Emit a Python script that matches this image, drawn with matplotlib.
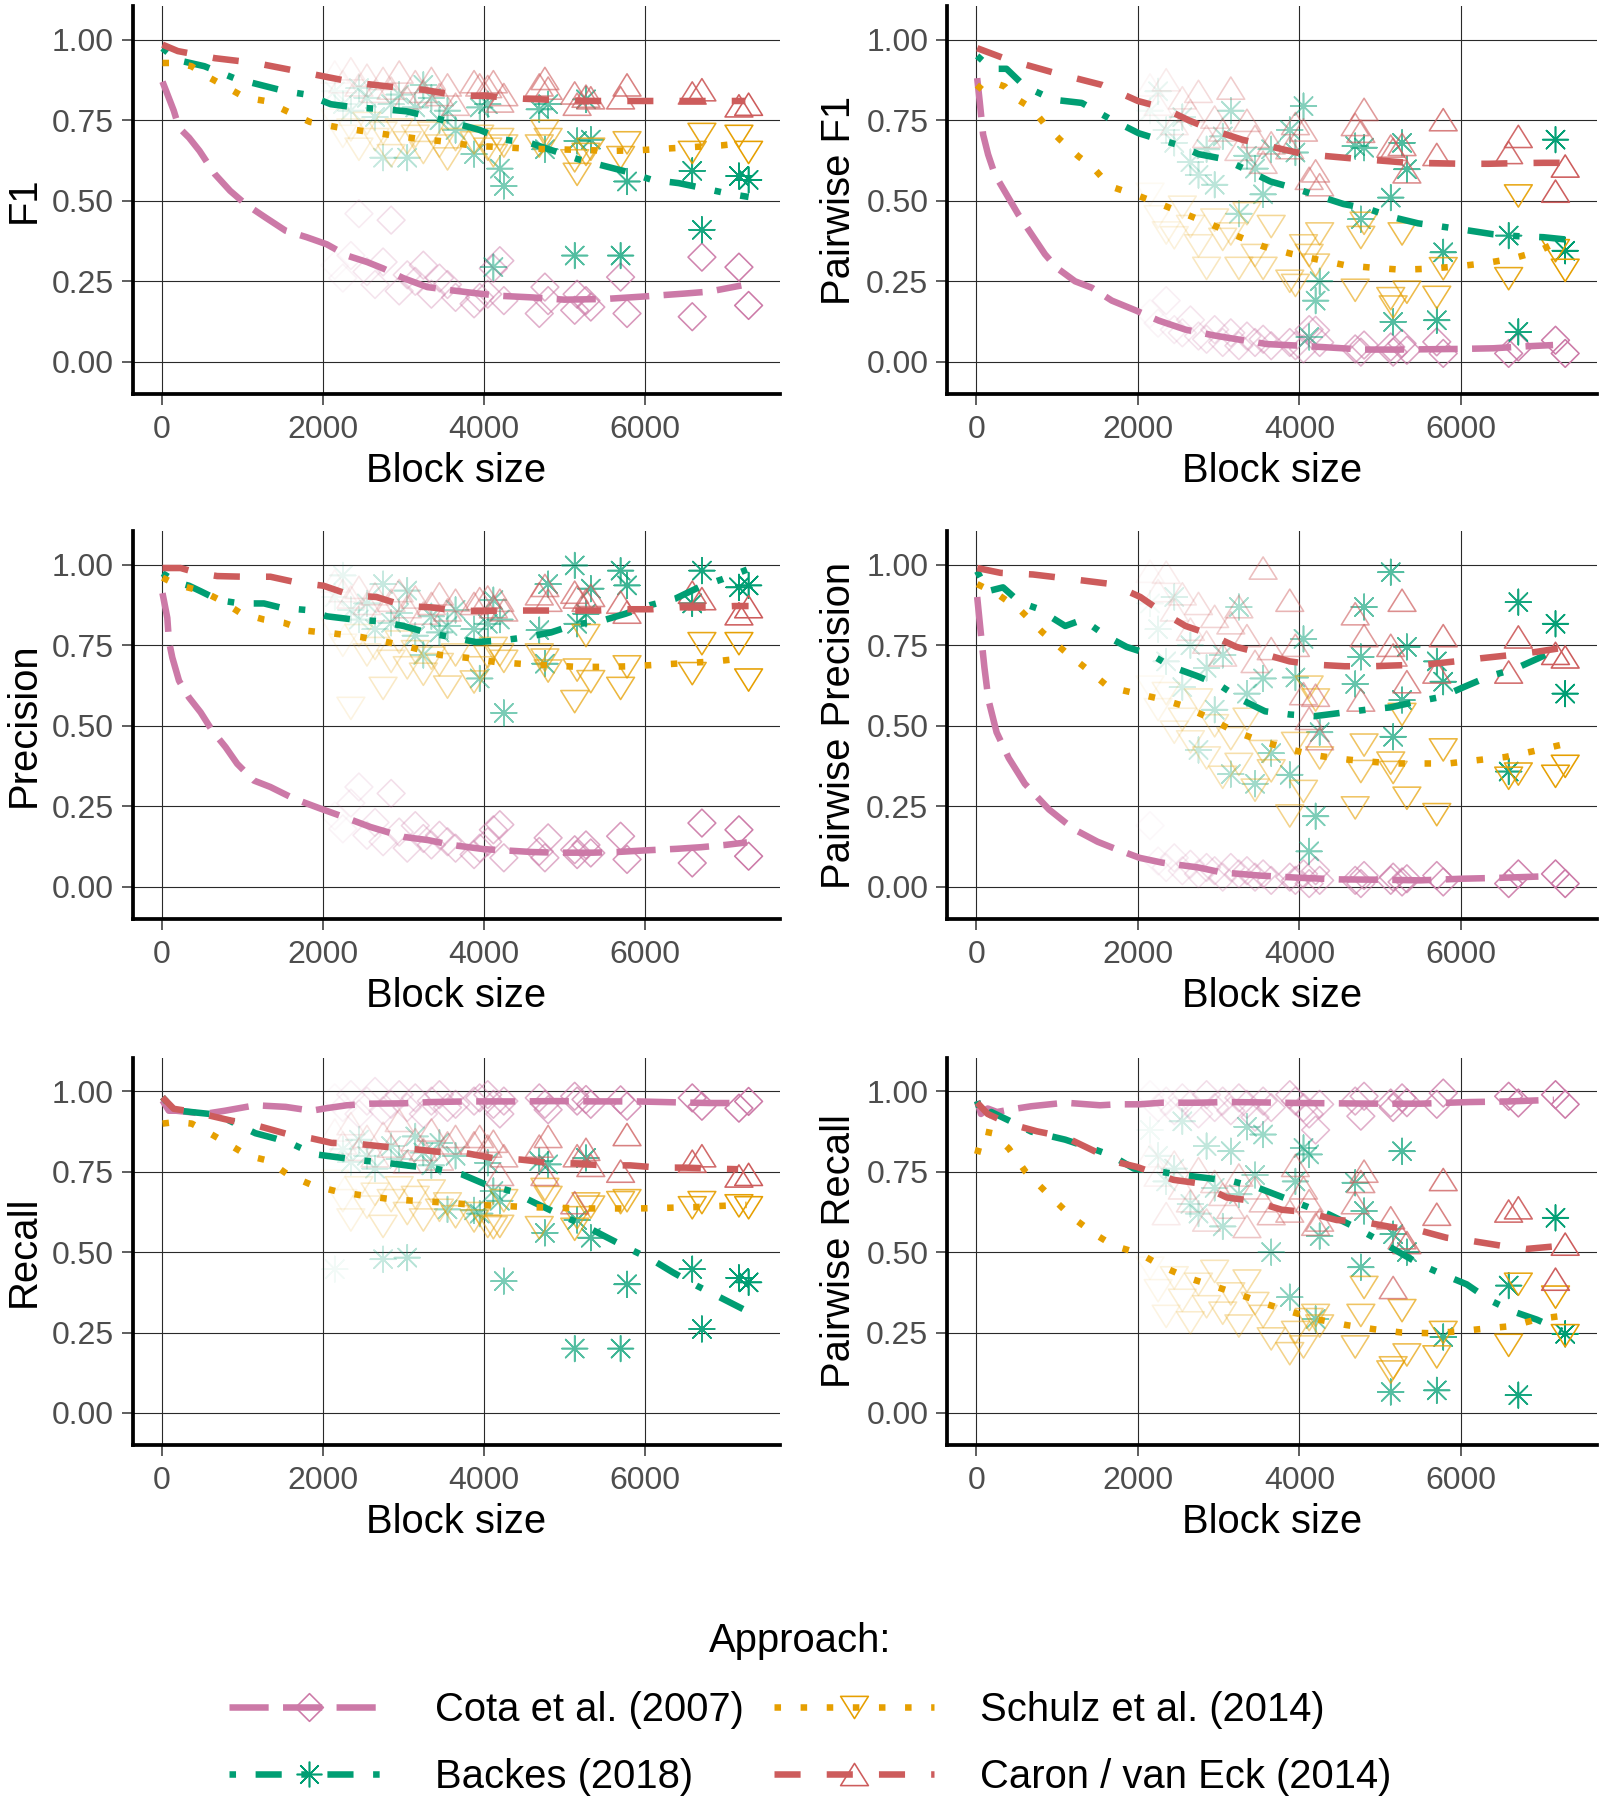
import numpy as np
import matplotlib
matplotlib.use("Agg")
import matplotlib.pyplot as plt
from matplotlib.lines import Line2D
from matplotlib.path import Path

plt.rcParams['font.family'] = ['Liberation Sans', 'DejaVu Sans']

# ---------------- data ----------------
APPROACHES = ["Cota et al. (2007)", "Backes (2018)", "Schulz et al. (2014)", "Caron / van Eck (2014)"]
METRICS = ["F1", "Pairwise F1", "Precision", "Pairwise Precision", "Recall", "Pairwise Recall"]
X_TICKS = [0, 2000, 4000, 6000]
Y_TICKS = [0.00, 0.25, 0.50, 0.75, 1.00]
Y_TICK_LABELS = ["0.00", "0.25", "0.50", "0.75", "1.00"]

BLOCK_SIZES = [2150, 2250, 2350, 2450, 2550, 2650, 2750, 2850, 2950, 3050, 3150, 3250, 3350, 3450, 3550, 3650,
               3880, 3950, 4050, 4120, 4200, 4250, 4690, 4760, 4800, 5130, 5160, 5270, 5330, 5700, 5780,
               6590, 6710, 7170, 7290]

# points per block (same order as BLOCK_SIZES)
F1_COTA = [0.30, 0.26, 0.33, 0.46, 0.28, 0.24, 0.31, 0.44, 0.22, 0.27, 0.25, 0.30, 0.21, 0.26, 0.24, 0.20, 0.18, 0.20, 0.21, 0.29, 0.314, 0.19, 0.15, 0.232, 0.19, 0.16, 0.21, 0.19, 0.17, 0.263, 0.15, 0.14, 0.325, 0.294, 0.175]
F1_BACKES = [0.84, 0.80, 0.78, 0.85, 0.82, 0.76, 0.634, 0.80, 0.83, 0.634, 0.79, 0.86, 0.82, 0.75, 0.78, 0.72, 0.645, 0.79, 0.80, 0.294, 0.60, 0.546, 0.784, 0.66, 0.80, 0.33, 0.686, 0.815, 0.69, 0.33, 0.56, 0.593, 0.41, 0.577, 0.565]
F1_SCHULZ = [0.75, 0.70, 0.72, 0.66, 0.74, 0.69, 0.71, 0.64, 0.72, 0.68, 0.70, 0.65, 0.71, 0.67, 0.63, 0.69, 0.68, 0.70, 0.66, 0.64, 0.69, 0.67, 0.67, 0.716, 0.69, 0.624, 0.582, 0.644, 0.66, 0.634, 0.68, 0.65, 0.706, 0.70, 0.65]
F1_CARON = [0.90, 0.87, 0.91, 0.86, 0.89, 0.84, 0.88, 0.85, 0.90, 0.82, 0.87, 0.84, 0.88, 0.83, 0.86, 0.80, 0.87, 0.86, 0.855, 0.87, 0.81, 0.83, 0.86, 0.88, 0.85, 0.835, 0.80, 0.825, 0.82, 0.82, 0.86, 0.835, 0.845, 0.795, 0.80]

PW_F1_COTA = [0.15, 0.12, 0.19, 0.10, 0.09, 0.13, 0.08, 0.07, 0.10, 0.06, 0.09, 0.05, 0.08, 0.06, 0.07, 0.05, 0.06, 0.05, 0.04, 0.10, 0.098, 0.06, 0.04, 0.03, 0.052, 0.046, 0.03, 0.057, 0.036, 0.062, 0.026, 0.026, 0.046, 0.067, 0.026]
PW_F1_BACKES = [0.78, 0.84, 0.72, 0.68, 0.76, 0.62, 0.58, 0.66, 0.55, 0.70, 0.78, 0.46, 0.64, 0.60, 0.52, 0.66, 0.72, 0.65, 0.794, 0.077, 0.19, 0.25, 0.67, 0.443, 0.665, 0.51, 0.124, 0.68, 0.598, 0.129, 0.34, 0.392, 0.093, 0.69, 0.345]
PW_F1_SCHULZ = [0.52, 0.45, 0.40, 0.385, 0.48, 0.42, 0.36, 0.29, 0.44, 0.38, 0.397, 0.29, 0.46, 0.33, 0.29, 0.42, 0.25, 0.237, 0.36, 0.33, 0.30, 0.397, 0.222, 0.386, 0.43, 0.196, 0.17, 0.397, 0.216, 0.20, 0.289, 0.258, 0.515, 0.345, 0.284]
PW_F1_CARON = [0.86, 0.80, 0.876, 0.74, 0.82, 0.78, 0.84, 0.70, 0.76, 0.72, 0.85, 0.66, 0.75, 0.70, 0.62, 0.68, 0.665, 0.74, 0.72, 0.57, 0.593, 0.55, 0.737, 0.716, 0.784, 0.67, 0.66, 0.675, 0.59, 0.644, 0.752, 0.65, 0.70, 0.53, 0.608]

PRECISION_COTA = [0.22, 0.18, 0.26, 0.31, 0.16, 0.20, 0.14, 0.29, 0.17, 0.12, 0.19, 0.15, 0.13, 0.16, 0.14, 0.12, 0.10, 0.12, 0.14, 0.177, 0.193, 0.09, 0.11, 0.09, 0.152, 0.115, 0.10, 0.13, 0.105, 0.157, 0.085, 0.074, 0.198, 0.177, 0.095]
PRECISION_BACKES = [0.90, 0.967, 0.86, 0.83, 0.88, 0.80, 0.94, 0.82, 0.85, 0.92, 0.78, 0.72, 0.84, 0.79, 0.81, 0.86, 0.80, 0.647, 0.817, 0.89, 0.83, 0.54, 0.797, 0.693, 0.94, 0.998, 0.817, 0.848, 0.926, 0.982, 0.936, 0.88, 0.982, 0.93, 0.936]
PRECISION_SCHULZ = [0.80, 0.75, 0.554, 0.78, 0.72, 0.74, 0.616, 0.70, 0.76, 0.68, 0.73, 0.66, 0.71, 0.69, 0.62, 0.72, 0.636, 0.68, 0.714, 0.74, 0.72, 0.70, 0.72, 0.704, 0.67, 0.575, 0.673, 0.78, 0.637, 0.616, 0.683, 0.662, 0.755, 0.755, 0.642]
PRECISION_CARON = [0.95, 0.92, 0.90, 0.93, 0.88, 0.91, 0.86, 0.89, 0.92, 0.87, 0.90, 0.85, 0.88, 0.91, 0.86, 0.89, 0.88, 0.895, 0.90, 0.87, 0.89, 0.86, 0.91, 0.936, 0.89, 0.915, 0.90, 0.89, 0.905, 0.884, 0.853, 0.915, 0.895, 0.848, 0.87]

PW_PRECISION_COTA = [0.19, 0.08, 0.06, 0.09, 0.05, 0.07, 0.04, 0.06, 0.05, 0.03, 0.06, 0.04, 0.05, 0.03, 0.04, 0.02, 0.03, 0.02, 0.04, 0.01, 0.05, 0.02, 0.02, 0.01, 0.035, 0.02, 0.03, 0.015, 0.025, 0.035, 0.015, 0.01, 0.04, 0.04, 0.01]
PW_PRECISION_BACKES = [0.88, 0.80, 0.70, 0.90, 0.62, 0.75, 0.425, 0.68, 0.55, 0.72, 0.35, 0.869, 0.60, 0.32, 0.647, 0.415, 0.348, 0.65, 0.77, 0.11, 0.219, 0.48, 0.63, 0.714, 0.869, 0.977, 0.466, 0.58, 0.745, 0.70, 0.637, 0.358, 0.884, 0.817, 0.60]
PW_PRECISION_SCHULZ = [0.62, 0.55, 0.60, 0.48, 0.52, 0.45, 0.58, 0.40, 0.50, 0.34, 0.46, 0.38, 0.52, 0.30, 0.42, 0.36, 0.22, 0.445, 0.296, 0.62, 0.58, 0.40, 0.245, 0.358, 0.44, 0.384, 0.355, 0.535, 0.275, 0.224, 0.425, 0.337, 0.35, 0.343, 0.374]
PW_PRECISION_CARON = [0.98, 0.92, 0.977, 0.86, 0.91, 0.80, 0.88, 0.76, 0.84, 0.72, 0.82, 0.87, 0.78, 0.70, 0.99, 0.74, 0.89, 0.75, 0.60, 0.523, 0.595, 0.46, 0.848, 0.58, 0.78, 0.75, 0.72, 0.89, 0.637, 0.667, 0.78, 0.667, 0.776, 0.725, 0.714]

RECALL_COTA = [0.98, 0.95, 0.99, 0.93, 0.97, 1.0, 0.94, 0.96, 0.99, 0.95, 0.98, 0.93, 0.97, 0.99, 0.95, 0.96, 0.97, 0.98, 0.99, 0.96, 0.93, 0.97, 0.98, 0.96, 0.943, 0.985, 0.97, 0.975, 0.96, 0.974, 0.954, 0.98, 0.954, 0.948, 0.969]
RECALL_BACKES = [0.447, 0.82, 0.78, 0.85, 0.80, 0.76, 0.478, 0.83, 0.79, 0.483, 0.86, 0.81, 0.77, 0.84, 0.633, 0.80, 0.63, 0.62, 0.778, 0.69, 0.66, 0.41, 0.783, 0.56, 0.773, 0.20, 0.60, 0.793, 0.545, 0.20, 0.40, 0.447, 0.261, 0.42, 0.406]
RECALL_SCHULZ = [0.72, 0.66, 0.60, 0.70, 0.64, 0.68, 0.58, 0.66, 0.70, 0.62, 0.67, 0.60, 0.69, 0.63, 0.65, 0.61, 0.597, 0.62, 0.58, 0.576, 0.58, 0.66, 0.576, 0.695, 0.67, 0.571, 0.607, 0.65, 0.64, 0.654, 0.66, 0.638, 0.654, 0.644, 0.638]
RECALL_CARON = [0.88, 0.84, 0.90, 0.82, 0.86, 0.80, 0.87, 0.83, 0.91, 0.78, 0.85, 0.82, 0.88, 0.79, 0.84, 0.86, 0.84, 0.86, 0.83, 0.845, 0.742, 0.80, 0.83, 0.742, 0.86, 0.654, 0.80, 0.82, 0.77, 0.752, 0.866, 0.783, 0.80, 0.737, 0.742]

PW_RECALL_COTA = [0.99, 0.95, 0.97, 0.94, 0.98, 0.96, 0.93, 0.99, 0.95, 0.97, 0.94, 0.98, 0.96, 0.92, 0.97, 0.95, 0.99, 0.97, 0.95, 0.93, 0.88, 0.96, 0.97, 0.923, 0.985, 0.964, 0.95, 0.98, 0.965, 0.96, 0.995, 0.985, 0.964, 0.99, 0.96]
PW_RECALL_BACKES = [0.88, 0.80, 0.72, 0.76, 0.907, 0.65, 0.62, 0.83, 0.70, 0.58, 0.814, 0.68, 0.89, 0.74, 0.866, 0.50, 0.36, 0.72, 0.824, 0.804, 0.292, 0.55, 0.716, 0.453, 0.628, 0.065, 0.556, 0.814, 0.50, 0.07, 0.236, 0.396, 0.055, 0.607, 0.246]
PW_RECALL_SCHULZ = [0.45, 0.38, 0.30, 0.42, 0.35, 0.28, 0.40, 0.33, 0.44, 0.31, 0.37, 0.27, 0.41, 0.34, 0.30, 0.23, 0.184, 0.25, 0.205, 0.29, 0.303, 0.27, 0.205, 0.303, 0.39, 0.127, 0.14, 0.318, 0.18, 0.174, 0.25, 0.21, 0.40, 0.36, 0.24]
PW_RECALL_CARON = [0.80, 0.74, 0.62, 0.78, 0.70, 0.66, 0.76, 0.60, 0.72, 0.68, 0.64, 0.74, 0.58, 0.70, 0.66, 0.62, 0.628, 0.77, 0.70, 0.66, 0.587, 0.60, 0.654, 0.72, 0.752, 0.607, 0.39, 0.545, 0.53, 0.618, 0.726, 0.628, 0.638, 0.416, 0.525]

# smoothed trend lines (x, y)
F1_COTA_LX = [10, 57, 150, 215, 340, 470, 660, 850, 1040, 1290, 1540, 1800, 2050, 2300, 2550, 2750, 3000, 3300, 3600, 3900, 4200, 4600, 5000, 5500, 6000, 6500, 6800, 7200]
F1_COTA_LY = [0.87, 0.84, 0.78, 0.727, 0.696, 0.655, 0.583, 0.531, 0.49, 0.448, 0.407, 0.387, 0.365, 0.33, 0.31, 0.29, 0.26, 0.232, 0.222, 0.213, 0.205, 0.2, 0.193, 0.195, 0.203, 0.212, 0.218, 0.237]
F1_BACKES_LX = [10, 180, 530, 910, 1540, 1800, 2100, 2400, 2730, 3040, 3350, 3660, 3950, 4250, 4570, 4870, 5160, 5470, 5780, 6090, 6420, 6710, 7040, 7290]
F1_BACKES_LY = [0.974, 0.938, 0.918, 0.88, 0.84, 0.83, 0.80, 0.79, 0.785, 0.778, 0.76, 0.74, 0.72, 0.69, 0.68, 0.655, 0.63, 0.61, 0.59, 0.565, 0.555, 0.54, 0.522, 0.512]
F1_SCHULZ_LX = [10, 180, 370, 560, 785, 1040, 1290, 1540, 1840, 2170, 2520, 2850, 3180, 3520, 3860, 4190, 4545, 4875, 5225, 5575, 5925, 6255, 6605, 6950, 7245]
F1_SCHULZ_LY = [0.928, 0.928, 0.918, 0.887, 0.856, 0.82, 0.81, 0.78, 0.745, 0.729, 0.716, 0.704, 0.693, 0.684, 0.671, 0.667, 0.662, 0.66, 0.658, 0.655, 0.657, 0.662, 0.667, 0.672, 0.68]
F1_CARON_LX = [10, 200, 660, 1165, 1800, 2430, 3000, 3250, 3700, 4000, 4500, 5000, 5400, 6000, 6700, 7250]
F1_CARON_LY = [0.985, 0.965, 0.943, 0.928, 0.897, 0.866, 0.85, 0.845, 0.826, 0.826, 0.817, 0.812, 0.81, 0.81, 0.81, 0.81]

PW_F1_COTA_LX = [10, 41, 83, 145, 228, 373, 518, 683, 849, 994, 1222, 1429, 1677, 1988, 2257, 2588, 2961, 3300, 3600, 4000, 4400, 4800, 5200, 5600, 6000, 6400, 6800, 7140]
PW_F1_COTA_LY = [0.881, 0.809, 0.706, 0.644, 0.582, 0.52, 0.458, 0.396, 0.334, 0.292, 0.25, 0.23, 0.19, 0.158, 0.128, 0.1, 0.081, 0.067, 0.055, 0.05, 0.044, 0.038, 0.038, 0.039, 0.04, 0.042, 0.048, 0.052]
PW_F1_BACKES_LX = [10, 145, 207, 373, 600, 953, 1305, 1636, 2008, 2200, 2480, 2750, 3060, 3330, 3640, 3925, 4235, 4545, 4850, 5140, 5470, 5760, 6090, 6400, 6710, 7020, 7290]
PW_F1_BACKES_LY = [0.95, 0.92, 0.91, 0.91, 0.855, 0.814, 0.804, 0.757, 0.71, 0.695, 0.675, 0.645, 0.63, 0.598, 0.56, 0.54, 0.515, 0.49, 0.475, 0.45, 0.43, 0.42, 0.408, 0.396, 0.39, 0.387, 0.38]
PW_F1_SCHULZ_LX = [10, 83, 228, 352, 476, 683, 849, 1035, 1263, 1449, 1656, 1988, 2276, 2606, 2916, 3245, 3555, 3905, 4235, 4585, 4915, 5266, 5596, 5946, 6288, 6627, 6956, 7225]
PW_F1_SCHULZ_LY = [0.845, 0.866, 0.866, 0.855, 0.82, 0.788, 0.737, 0.69, 0.638, 0.602, 0.545, 0.517, 0.49, 0.457, 0.426, 0.389, 0.358, 0.335, 0.317, 0.299, 0.292, 0.286, 0.289, 0.296, 0.306, 0.32, 0.343, 0.376]
PW_F1_CARON_LX = [10, 393, 973, 1553, 2000, 2300, 2630, 2920, 3290, 3620, 4000, 4280, 4730, 5000, 5350, 5640, 6010, 6340, 6710, 7020, 7250]
PW_F1_CARON_LY = [0.974, 0.938, 0.897, 0.86, 0.81, 0.79, 0.75, 0.72, 0.69, 0.67, 0.648, 0.64, 0.63, 0.625, 0.618, 0.617, 0.615, 0.615, 0.617, 0.618, 0.618]

PRECISION_COTA_LX = [10, 70, 90, 132, 215, 339, 483, 628, 793, 938, 1145, 1350, 1640, 1970, 2260, 2590, 3004, 3310, 3600, 4000, 4340, 4600, 4900, 5350, 5650, 6000, 6400, 6700, 7000, 7270]
PRECISION_COTA_LY = [0.912, 0.835, 0.763, 0.712, 0.64, 0.588, 0.542, 0.485, 0.434, 0.382, 0.33, 0.31, 0.274, 0.243, 0.217, 0.186, 0.155, 0.145, 0.13, 0.117, 0.112, 0.108, 0.106, 0.106, 0.108, 0.113, 0.118, 0.123, 0.13, 0.138]
PRECISION_BACKES_LX = [10, 195, 340, 483, 710, 980, 1270, 1495, 1785, 2054, 2384, 2694, 3004, 3290, 3600, 3905, 4215, 4525, 4835, 5140, 5450, 5760, 6070, 6380, 6670, 6960, 7270]
PRECISION_BACKES_LY = [0.974, 0.945, 0.935, 0.918, 0.89, 0.88, 0.88, 0.866, 0.86, 0.84, 0.83, 0.825, 0.81, 0.79, 0.775, 0.76, 0.765, 0.775, 0.79, 0.815, 0.825, 0.848, 0.875, 0.895, 0.93, 0.955, 0.985]
PRECISION_SCHULZ_LX = [10, 173, 318, 504, 752, 980, 1270, 1517, 1806, 2130, 2470, 2800, 3120, 3460, 3800, 4150, 4490, 4830, 5160, 5500, 5840, 6180, 6525, 6870, 7200]
PRECISION_SCHULZ_LY = [0.96, 0.94, 0.93, 0.918, 0.887, 0.85, 0.83, 0.82, 0.795, 0.787, 0.776, 0.76, 0.742, 0.72, 0.711, 0.698, 0.692, 0.688, 0.683, 0.683, 0.685, 0.69, 0.695, 0.7, 0.709]
PRECISION_CARON_LX = [10, 235, 442, 690, 1020, 1350, 1680, 2010, 2360, 2670, 3025, 3335, 3700, 4030, 4380, 4710, 5080, 5410, 5760, 6090, 6440, 6780, 7120, 7290]
PRECISION_CARON_LY = [0.99, 0.99, 0.975, 0.965, 0.963, 0.963, 0.945, 0.935, 0.905, 0.9, 0.872, 0.868, 0.857, 0.857, 0.858, 0.858, 0.858, 0.858, 0.862, 0.862, 0.868, 0.868, 0.872, 0.872]

PW_PRECISION_COTA_LX = [10, 50, 100, 150, 250, 400, 600, 900, 1200, 1500, 1700, 2020, 2300, 2750, 3030, 3500, 4000, 4500, 5000, 5500, 6000, 6500, 7100]
PW_PRECISION_COTA_LY = [0.9, 0.8, 0.68, 0.58, 0.48, 0.4, 0.32, 0.24, 0.18, 0.14, 0.12, 0.09, 0.075, 0.06, 0.045, 0.035, 0.028, 0.023, 0.022, 0.02, 0.025, 0.028, 0.033]
PW_PRECISION_BACKES_LX = [10, 140, 330, 540, 750, 1100, 1320, 1600, 1860, 2170, 2420, 2730, 3020, 3290, 3575, 3885, 4190, 4505, 4830, 5120, 5450, 5760, 6050, 6360, 6650, 6960, 7245]
PW_PRECISION_BACKES_LY = [0.98, 0.918, 0.93, 0.883, 0.865, 0.81, 0.83, 0.78, 0.745, 0.72, 0.683, 0.655, 0.625, 0.58, 0.545, 0.535, 0.53, 0.54, 0.55, 0.557, 0.575, 0.59, 0.622, 0.655, 0.675, 0.71, 0.745]
PW_PRECISION_SCHULZ_LX = [10, 255, 540, 820, 1100, 1400, 1637, 1885, 2215, 2525, 2855, 3165, 3495, 3825, 4155, 4480, 4810, 5160, 5490, 5840, 6190, 6545, 6875, 7225]
PW_PRECISION_SCHULZ_LY = [0.94, 0.91, 0.86, 0.79, 0.73, 0.67, 0.62, 0.606, 0.587, 0.565, 0.528, 0.486, 0.455, 0.431, 0.41, 0.398, 0.39, 0.383, 0.383, 0.383, 0.393, 0.403, 0.42, 0.44]
PW_PRECISION_CARON_LX = [10, 300, 700, 1200, 1680, 2030, 2320, 2590, 2880, 3220, 3530, 3880, 4190, 4560, 4900, 5245, 5555, 5925, 6255, 6627, 6940, 7200]
PW_PRECISION_CARON_LY = [0.99, 0.975, 0.97, 0.955, 0.94, 0.9, 0.85, 0.81, 0.785, 0.745, 0.725, 0.7, 0.69, 0.685, 0.685, 0.688, 0.69, 0.7, 0.71, 0.72, 0.73, 0.74]

RECALL_COTA_LX = [10, 89, 180, 373, 530, 785, 1165, 1540, 1860, 2050, 2300, 2600, 3000, 3350, 3800, 4100, 4400, 4900, 5400, 5900, 6400, 6800, 7220]
RECALL_COTA_LY = [0.972, 0.94, 0.94, 0.935, 0.93, 0.94, 0.957, 0.952, 0.94, 0.948, 0.957, 0.962, 0.963, 0.967, 0.969, 0.969, 0.969, 0.97, 0.969, 0.969, 0.966, 0.964, 0.964]
RECALL_BACKES_LX = [10, 120, 215, 595, 785, 1165, 1420, 1610, 1890, 2190, 2500, 2790, 3100, 3400, 3730, 4030, 4340, 4630, 4960, 5230, 5530, 5810, 6100, 6350, 6650, 6930, 7220]
RECALL_BACKES_LY = [0.982, 0.952, 0.94, 0.93, 0.916, 0.87, 0.853, 0.838, 0.805, 0.795, 0.785, 0.778, 0.768, 0.76, 0.742, 0.71, 0.69, 0.654, 0.615, 0.585, 0.546, 0.51, 0.475, 0.437, 0.395, 0.36, 0.323]
RECALL_SCHULZ_LX = [10, 180, 373, 595, 850, 1070, 1320, 1575, 1875, 2190, 2535, 2875, 3200, 3545, 3885, 4225, 4565, 4905, 5255, 5590, 5925, 6275, 6610, 6950, 7265]
RECALL_SCHULZ_LY = [0.9, 0.905, 0.9, 0.87, 0.833, 0.8, 0.785, 0.74, 0.708, 0.688, 0.675, 0.664, 0.659, 0.654, 0.647, 0.644, 0.64, 0.638, 0.636, 0.636, 0.636, 0.638, 0.64, 0.644, 0.647]
RECALL_CARON_LX = [10, 150, 405, 850, 1165, 1610, 1860, 2110, 2400, 2770, 3080, 3450, 3780, 4130, 4460, 4810, 5120, 5490, 5820, 6170, 6500, 6850, 7160]
RECALL_CARON_LY = [0.982, 0.946, 0.936, 0.91, 0.895, 0.864, 0.854, 0.84, 0.838, 0.828, 0.822, 0.812, 0.808, 0.792, 0.788, 0.778, 0.776, 0.77, 0.77, 0.763, 0.763, 0.76, 0.758]

PW_RECALL_COTA_LX = [10, 57, 140, 255, 400, 680, 1100, 1530, 1740, 2020, 2300, 2750, 3100, 3500, 4000, 4500, 5000, 5500, 6100, 6600, 7150]
PW_RECALL_COTA_LY = [0.97, 0.93, 0.947, 0.936, 0.943, 0.954, 0.965, 0.957, 0.96, 0.96, 0.965, 0.965, 0.967, 0.966, 0.964, 0.963, 0.962, 0.962, 0.967, 0.969, 0.974]
PW_RECALL_BACKES_LX = [10, 85, 185, 400, 680, 1100, 1460, 1680, 1950, 2280, 2545, 2875, 3180, 3490, 3800, 4110, 4360, 4670, 4960, 5230, 5510, 5780, 6070, 6360, 6650, 6940, 7250]
PW_RECALL_BACKES_LY = [0.97, 0.91, 0.936, 0.91, 0.875, 0.85, 0.82, 0.8, 0.76, 0.75, 0.74, 0.73, 0.72, 0.7, 0.67, 0.64, 0.618, 0.58, 0.54, 0.5, 0.46, 0.43, 0.4, 0.35, 0.315, 0.29, 0.255]
PW_RECALL_SCHULZ_LX = [10, 85, 200, 400, 610, 890, 1180, 1460, 1700, 2020, 2320, 2620, 2935, 3260, 3585, 3905, 4240, 4585, 4930, 5265, 5610, 5950, 6290, 6630, 6955, 7200]
PW_RECALL_SCHULZ_LY = [0.805, 0.876, 0.87, 0.823, 0.75, 0.68, 0.61, 0.557, 0.52, 0.496, 0.453, 0.42, 0.395, 0.368, 0.339, 0.314, 0.29, 0.273, 0.26, 0.25, 0.248, 0.253, 0.262, 0.27, 0.292, 0.3]
PW_RECALL_CARON_LX = [10, 140, 400, 750, 1100, 1390, 1745, 1990, 2440, 2730, 3100, 3410, 3780, 4070, 4460, 4770, 5140, 5450, 5820, 6130, 6500, 6810, 7250]
PW_RECALL_CARON_LY = [0.965, 0.93, 0.9, 0.876, 0.858, 0.823, 0.78, 0.765, 0.725, 0.715, 0.67, 0.66, 0.632, 0.625, 0.6, 0.595, 0.578, 0.57, 0.545, 0.535, 0.52, 0.51, 0.52]

# ---------------- assemble ----------------
PANELS = [
    ("F1", [(F1_COTA, F1_COTA_LX, F1_COTA_LY), (F1_BACKES, F1_BACKES_LX, F1_BACKES_LY),
            (F1_SCHULZ, F1_SCHULZ_LX, F1_SCHULZ_LY), (F1_CARON, F1_CARON_LX, F1_CARON_LY)]),
    ("Pairwise F1", [(PW_F1_COTA, PW_F1_COTA_LX, PW_F1_COTA_LY), (PW_F1_BACKES, PW_F1_BACKES_LX, PW_F1_BACKES_LY),
                     (PW_F1_SCHULZ, PW_F1_SCHULZ_LX, PW_F1_SCHULZ_LY), (PW_F1_CARON, PW_F1_CARON_LX, PW_F1_CARON_LY)]),
    ("Precision", [(PRECISION_COTA, PRECISION_COTA_LX, PRECISION_COTA_LY), (PRECISION_BACKES, PRECISION_BACKES_LX, PRECISION_BACKES_LY),
                   (PRECISION_SCHULZ, PRECISION_SCHULZ_LX, PRECISION_SCHULZ_LY), (PRECISION_CARON, PRECISION_CARON_LX, PRECISION_CARON_LY)]),
    ("Pairwise Precision", [(PW_PRECISION_COTA, PW_PRECISION_COTA_LX, PW_PRECISION_COTA_LY),
                            (PW_PRECISION_BACKES, PW_PRECISION_BACKES_LX, PW_PRECISION_BACKES_LY),
                            (PW_PRECISION_SCHULZ, PW_PRECISION_SCHULZ_LX, PW_PRECISION_SCHULZ_LY),
                            (PW_PRECISION_CARON, PW_PRECISION_CARON_LX, PW_PRECISION_CARON_LY)]),
    ("Recall", [(RECALL_COTA, RECALL_COTA_LX, RECALL_COTA_LY), (RECALL_BACKES, RECALL_BACKES_LX, RECALL_BACKES_LY),
                (RECALL_SCHULZ, RECALL_SCHULZ_LX, RECALL_SCHULZ_LY), (RECALL_CARON, RECALL_CARON_LX, RECALL_CARON_LY)]),
    ("Pairwise Recall", [(PW_RECALL_COTA, PW_RECALL_COTA_LX, PW_RECALL_COTA_LY),
                         (PW_RECALL_BACKES, PW_RECALL_BACKES_LX, PW_RECALL_BACKES_LY),
                         (PW_RECALL_SCHULZ, PW_RECALL_SCHULZ_LX, PW_RECALL_SCHULZ_LY),
                         (PW_RECALL_CARON, PW_RECALL_CARON_LX, PW_RECALL_CARON_LY)]),
]

# ---------------- style ----------------
TRI_UP = Path([(-1, -0.8), (1, -0.8), (0, 0.8), (-1, -0.8)], closed=True)
TRI_DOWN = Path([(-1, 0.8), (1, 0.8), (0, -0.8), (-1, 0.8)], closed=True)
DIAMOND = Path([(0, 1), (1, 0), (0, -1), (-1, 0), (0, 1)], closed=True)
ASTERISK = (8, 2, 0)

COLORS = ["#CC79A7", "#009E73", "#E69F00", "#CD5C5C"]
DASHES = [(6.0, 2.2), (1, 3, 4, 3), (1, 3), (4, 4)]
MARKERS = [DIAMOND, ASTERISK, TRI_DOWN, TRI_UP]
MSIZES = [20, 18.5, 20, 20]
LW = 4.7
MEW = 1.15

FIG_W, FIG_H = 1600, 1798
fig = plt.figure(figsize=(FIG_W / 100, FIG_H / 100), dpi=100)

# axes rectangles in pixel coordinates (left, right, top, bottom)
COLS = [(132.7, 780.0), (947.3, 1596.7)]
ROWS = [(6.0, 394.0), (531.0, 919.0), (1057.7, 1445.0)]

xs = np.array(BLOCK_SIZES, dtype=float)
alphas = np.clip((xs - 2050) / 5250.0, 0, 1) ** 0.75
alphas = np.clip(alphas, 0.03, 1)

for i, (metric, series) in enumerate(PANELS):
    r, c = divmod(i, 2)
    l, rr = COLS[c]
    t, b = ROWS[r]
    ax = fig.add_axes([l / FIG_W, 1 - b / FIG_H, (rr - l) / FIG_W, (b - t) / FIG_H])
    ax.set_xlim(-360, 7680)
    ax.set_ylim(-0.1, 1.105)
    ax.set_xticks(X_TICKS)
    ax.set_xticklabels([str(v) for v in X_TICKS])
    ax.set_yticks(Y_TICKS)
    ax.set_yticklabels(Y_TICK_LABELS)
    ax.grid(True, color="#2a2a2a", lw=0.8)
    ax.set_axisbelow(True)
    for s in ["top", "right"]:
        ax.spines[s].set_visible(False)
    for s in ["left", "bottom"]:
        ax.spines[s].set_linewidth(2.7)
        ax.spines[s].set_color("black")
    ax.tick_params(axis="both", direction="out", length=7.7, width=1.1, color="#333333",
                   labelsize=23, labelcolor="#4D4D4D")
    ax.tick_params(axis="y", pad=6)
    ax.tick_params(axis="x", pad=7.2)
    ax.set_xlabel("Block size", fontsize=28.8, labelpad=5.5)
    ax.set_ylabel(metric, fontsize=28.8, labelpad=6)

    for k, (pts, lx, ly) in enumerate(series):
        rgba = np.zeros((len(xs), 4))
        rgba[:, :3] = matplotlib.colors.to_rgb(COLORS[k])
        rgba[:, 3] = alphas
        if MARKERS[k] is ASTERISK:
            ax.scatter(xs, pts, marker=ASTERISK, s=MSIZES[k] ** 2, color=rgba, linewidths=MEW, zorder=2)
        else:
            ax.scatter(xs, pts, marker=MARKERS[k], s=MSIZES[k] ** 2, facecolors="none",
                       edgecolors=rgba, linewidths=MEW, zorder=2)
    for k, (pts, lx, ly) in enumerate(series):
        ax.plot(lx, ly, color=COLORS[k], lw=LW, linestyle=(0, DASHES[k]),
                dash_capstyle="butt", solid_capstyle="butt", zorder=3)

# legend
handles = []
for k in range(4):
    handles.append(Line2D([0], [0], color=COLORS[k], lw=LW, linestyle=(0, DASHES[k]),
                          dash_capstyle="butt", marker=MARKERS[k], markersize=MSIZES[k],
                          markerfacecolor="none", markeredgecolor=COLORS[k], markeredgewidth=MEW))
fig.text(0.5, 1 - 1652 / FIG_H, "Approach:", ha="center", va="baseline", fontsize=28.8)
fig.legend(handles, APPROACHES, ncol=2,
           loc="upper left", bbox_to_anchor=(229 / FIG_W, 1 - 1691 / FIG_H),
           frameon=False, fontsize=28.8, handlelength=4.0, handletextpad=1.15,
           columnspacing=0.75, labelspacing=0.72, borderpad=0, borderaxespad=0)

fig.savefig("out.png", dpi=100)
